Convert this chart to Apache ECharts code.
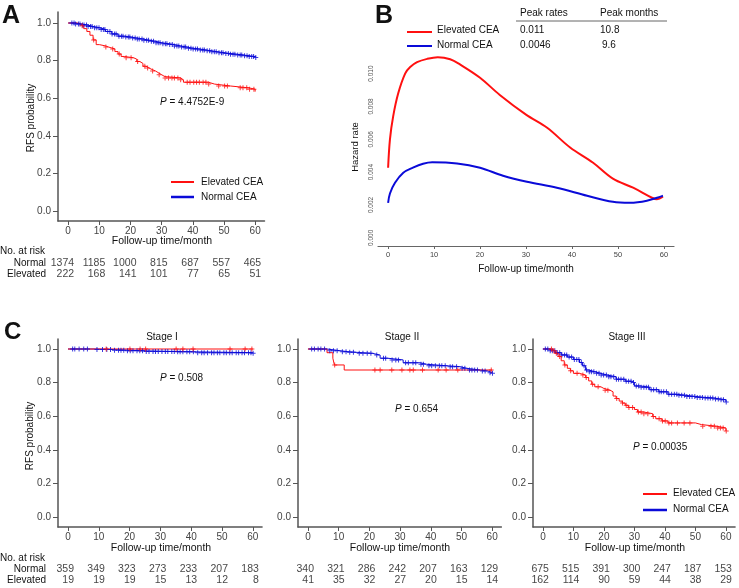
<!DOCTYPE html>
<html><head><meta charset="utf-8">
<script src="https://cdn.jsdelivr.net/npm/echarts@6/dist/echarts.min.js"></script>
<style>html,body{margin:0;padding:0;background:#fff}#c{width:739px;height:588px}</style>
</head><body><div id="c"></div>
<script>
// ---------------- DATA ----------------
const timeTicks = [0, 10, 20, 30, 40, 50, 60];
const probTicks = [0, 0.2, 0.4, 0.6, 0.8, 1];
const hazTicks = [0, 0.002, 0.004, 0.006, 0.008, 0.010];

// Panel A: Kaplan-Meier RFS (time month, survival)
const aNormal = [[0,1],[2,0.995],[4,0.99],[6,0.982],[8,0.975],[10,0.966],[12,0.955],[14,0.942],[16,0.93],[18,0.925],[20,0.92],[22,0.915],[24,0.908],[26,0.903],[28,0.895],[30,0.89],[32,0.886],[34,0.878],[36,0.872],[38,0.866],[40,0.862],[42,0.857],[44,0.852],[46,0.847],[48,0.842],[50,0.838],[52,0.834],[54,0.83],[56,0.826],[58,0.822],[60,0.816]];
const aElevated = [[0,1],[3,0.995],[4,0.985],[5,0.97],[6,0.955],[7,0.935],[8,0.91],[9,0.885],[10,0.878],[12,0.872],[13,0.862],[15,0.848],[16,0.835],[17,0.822],[18,0.815],[21,0.808],[22,0.795],[23,0.785],[24,0.77],[25,0.76],[26,0.752],[27,0.745],[28,0.735],[29,0.725],[30,0.715],[31,0.708],[36,0.698],[37,0.685],[45,0.675],[47,0.665],[52,0.655],[58,0.648],[60,0.635]];
const aNormalCens = [1.2,1.9,2.4,3.3,3.8,4.6,5.1,5.9,6.4,7.2,7.7,8.5,9.2,9.9,10.6,11.3,11.8,12.7,13.4,14.1,14.9,15.4,16.3,17.1,17.6,18.5,19.3,19.8,20.7,21.5,22.2,22.8,23.7,24.3,25.2,25.8,26.7,27.4,28.2,28.9,29.5,30.4,31.2,31.7,32.6,33.4,34.1,34.9,35.5,36.4,37.2,37.7,38.6,39.4,40.1,40.9,41.5,42.4,43.2,43.7,44.6,45.4,46.1,46.9,47.5,48.4,49.2,49.7,50.6,51.4,52.1,52.9,53.5,54.4,55.2,55.7,56.6,57.4,58.1,58.9,59.5,60.2];
const aElevatedCens = [4.5,8.2,12.1,14.3,16.4,18.6,20.2,22.3,24.6,25.5,27.1,29.2,31.1,32.2,33.3,34.1,35.2,36.1,38.2,39.1,40.3,41.2,42.1,43.3,44.2,45.1,48.3,50.2,51.1,55.2,56.1,57.3,58.2,59.6];
const aRiskNormal = [1374, 1185, 1000, 815, 687, 557, 465];
const aRiskElevated = [222, 168, 141, 101, 77, 65, 51];
const aPvalue = '4.4752E-9';

// Panel B: smoothed hazard rates
const hazElevated = [[0,0.00427],[0.4,0.006],[1.1,0.0074],[2.2,0.0088],[3.7,0.01],[4.8,0.0104],[6.3,0.0107],[8.5,0.0109],[10.8,0.011],[13.5,0.01088],[15.7,0.01055],[20,0.00975],[24.3,0.0087],[30,0.0075],[34.6,0.0067],[39.6,0.0055],[44.6,0.00457],[48.9,0.0036],[53.3,0.00305],[57.4,0.00244],[58.5,0.00235],[59.8,0.0025]];
const hazNormal = [[0,0.00213],[0.4,0.0027],[1.5,0.00335],[3.3,0.00396],[5.4,0.00427],[7.6,0.00451],[9.6,0.0046],[15,0.00453],[20,0.00427],[25,0.00378],[30.2,0.00341],[36.7,0.00305],[43.3,0.00256],[48.9,0.00219],[52.6,0.00213],[56.3,0.00226],[59.8,0.00256]];
const peakRates = ['0.011', '0.0046'];
const peakMonths = ['10.8', '9.6'];

// Panel C: by stage
const s1Normal = [[0,1],[9,0.997],[14,0.993],[19,0.989],[25,0.985],[35,0.983],[41,0.978],[60,0.975]];
const s1Elevated = [[0,1],[60,1]];
const s1NormalCens = [1.5,2.2,3.6,5.1,6.3,9.4,11.2,12.6,13.8,15.1,16.4,17.2,18.1,19.3,20.2,21.1,22.4,23.3,24.2,25.4,26.3,27.6,28.4,29.3,30.5,31.6,32.4,33.7,34.5,35.6,36.4,37.3,38.6,39.5,40.7,42.1,43.4,44.2,45.3,46.6,47.4,48.5,49.3,50.6,51.4,52.5,53.3,54.6,55.4,56.5,57.3,58.6,59.4,60.1];
const s1ElevatedCens = [12.4,20.1,23.4,25.2,35.1,37.3,40.6,52.6,57.5,59.7];
const s1RiskNormal = [359, 349, 323, 273, 233, 207, 183];
const s1RiskElevated = [19, 19, 19, 15, 13, 12, 8];
const s1Pvalue = '0.508';

const s2Normal = [[0,1],[6.2,0.99],[10.4,0.984],[13,0.98],[16,0.974],[21,0.964],[23.5,0.945],[26,0.935],[31,0.918],[36.5,0.909],[38.7,0.9],[45.3,0.895],[49.5,0.885],[51.7,0.875],[56,0.869],[58.6,0.859],[60,0.855]];
const s2Elevated = [[0,1],[6.2,0.978],[8.1,0.945],[8.6,0.905],[11.8,0.875],[60,0.875]];
const s2NormalCens = [1.2,2.1,3.3,4.2,5.4,7.1,8.3,9.5,11.2,12.4,13.6,14.8,16.7,17.9,19.3,20.5,22.4,24.6,25.3,27.4,28.6,29.5,31.8,32.7,34.2,35.1,36.8,37.6,39.4,40.3,41.5,42.8,43.6,44.7,46.3,47.1,48.4,50.2,51.1,52.6,53.4,54.3,55.2,56.8,57.7,59.3,60.1];
const s2ElevatedCens = [8.7,21.8,23.5,27.3,30.6,33.2,34.3,37.3,42.4,45.0,48.8,59.7];
const s2RiskNormal = [340, 321, 286, 242, 207, 163, 129];
const s2RiskElevated = [41, 35, 32, 27, 20, 15, 14];
const s2Pvalue = '0.654';

const s3Normal = [[0,1],[2,0.99],[4,0.978],[6,0.965],[8,0.952],[10,0.938],[12,0.92],[13,0.9],[14,0.875],[15,0.865],[17,0.855],[19,0.845],[21,0.835],[24,0.82],[27,0.808],[29,0.8],[30,0.78],[32,0.772],[35,0.758],[38,0.745],[41,0.73],[44,0.724],[47,0.718],[50,0.712],[53,0.708],[56,0.703],[58,0.698],[60,0.685]];
const s3Elevated = [[0,1],[3,0.99],[4,0.975],[5,0.955],[6,0.93],[7,0.905],[8,0.885],[9,0.87],[10,0.855],[12,0.845],[14,0.83],[15,0.81],[16,0.79],[17,0.775],[19,0.765],[20,0.755],[22,0.745],[23,0.72],[24,0.705],[25,0.69],[26,0.678],[27,0.665],[28,0.652],[30,0.64],[31,0.625],[33,0.615],[36,0.598],[37,0.585],[39,0.572],[41,0.56],[50,0.55],[52,0.54],[57,0.53],[60,0.512]];
const s3NormalCens = [0.8,1.6,2.4,3.1,3.9,4.7,5.5,6.2,7.1,7.8,8.6,9.4,10.3,11.1,11.8,12.6,13.5,14.3,15.2,15.9,16.7,17.6,18.4,19.1,19.9,20.8,21.6,22.3,23.2,24.1,24.8,25.6,26.5,27.3,28.1,28.9,29.7,30.6,31.4,32.2,33.1,33.9,34.6,35.5,36.3,37.2,38.1,38.8,39.6,40.5,41.3,42.2,43.1,43.9,44.6,45.5,46.4,47.2,48.1,48.9,49.8,50.6,51.5,52.3,53.2,54.1,54.9,55.7,56.6,57.5,58.4,59.2,60.1];
const s3ElevatedCens = [2.8,3.6,4.4,5.5,7.2,9.1,11.2,13.1,14.2,16.3,18.1,20.4,21.3,24.2,26.1,27.3,28.2,29.4,31.3,32.2,33.1,34.4,36.2,38.1,39.2,40.1,41.3,42.2,44.1,46.3,48.2,52.4,55.1,56.2,57.3,58.2,59.1,60.1];
const s3RiskNormal = [675, 515, 391, 300, 247, 187, 153];
const s3RiskElevated = [162, 114, 90, 59, 44, 38, 29];
const s3Pvalue = '0.00035';

// ---------------- CHART ----------------
const FONT = '"Liberation Sans", Arial, sans-serif';
const RED = '#ff1010';
const BLUE = '#0a0ad8';
const AX = '#555';
const PLUS = 'path://M2,0H3V2H5V3H3V5H2V3H0V2H2Z';

function stepAt(curve, t) {
  let v = curve[0][1];
  for (const p of curve) { if (p[0] <= t) v = p[1]; else break; }
  return v;
}

const grids = [], xAxes = [], yAxes = [], series = [];
function addKM(left, top, pxPerMonth, pxPerUnit, height) {
  const xmin = -3.25, xmax = 63;
  const idx = grids.length;
  const ymin = -10 / pxPerUnit;
  const ymax = (height - 10) / pxPerUnit;
  grids.push({ left: left, top: top, width: (xmax - xmin) * pxPerMonth, height: height });
  xAxes.push({
    gridIndex: idx, type: 'value', min: xmin, max: xmax,
    axisLine: { show: true, onZero: false, lineStyle: { color: AX, width: 1.5 } },
    axisTick: { show: true, length: 4, customValues: timeTicks, lineStyle: { color: AX } },
    axisLabel: { customValues: timeTicks, fontSize: 10, color: '#444', margin: 5, fontFamily: FONT },
    splitLine: { show: false }
  });
  yAxes.push({
    gridIndex: idx, type: 'value', min: ymin, max: ymax,
    axisLine: { show: true, onZero: false, lineStyle: { color: AX, width: 1.5 } },
    axisTick: { show: true, length: 5, customValues: probTicks, lineStyle: { color: AX } },
    axisLabel: { customValues: probTicks, fontSize: 10, color: '#444', margin: 7, fontFamily: FONT,
      formatter: v => v.toFixed(1) },
    splitLine: { show: false }
  });
  return idx;
}
function kmSeries(idx, curve, cens, color) {
  series.push({ type: 'line', xAxisIndex: idx, yAxisIndex: idx, data: curve, step: 'end',
    symbol: 'none', lineStyle: { color: color, width: 1 }, silent: true, z: 2 });
  series.push({ type: 'scatter', xAxisIndex: idx, yAxisIndex: idx,
    data: cens.map(t => [t, stepAt(curve, t)]), symbol: PLUS, symbolSize: 5,
    itemStyle: { color: color }, silent: true, z: 3 });
}
function addRisk(left, top, pxPerMonth, rowGap, normalVals, elevVals) {
  const xmin = -3.25, xmax = 63;
  const idx = grids.length;
  grids.push({ left: left, top: top, width: (xmax - xmin) * pxPerMonth, height: rowGap });
  xAxes.push({ gridIndex: idx, type: 'value', min: xmin, max: xmax, show: false });
  yAxes.push({ gridIndex: idx, type: 'value', min: 0, max: 1, show: false });
  const mk = (vals, row) => timeTicks.map((t, i) => [t, row, vals[i]]);
  series.push({ type: 'scatter', xAxisIndex: idx, yAxisIndex: idx,
    data: mk(normalVals, 1).concat(mk(elevVals, 0)), symbolSize: 1,
    itemStyle: { color: 'rgba(0,0,0,0)' }, silent: true,
    label: { show: true, position: 'inside', align: 'right', offset: [6, 0],
      formatter: p => String(p.value[2]), fontSize: 10.5, color: '#111', fontFamily: FONT } });
}

// Panel A
const iA = addKM(58, 12, 3.117, 188, 209);
kmSeries(iA, aNormal, aNormalCens, BLUE);
kmSeries(iA, aElevated, aElevatedCens, RED);
addRisk(58, 263, 3.117, 11, aRiskNormal, aRiskElevated);

// Panel B
const iB = grids.length;
grids.push({ left: 378, top: 49, width: 296, height: 197 });
xAxes.push({ gridIndex: iB, type: 'value', min: -2.2, max: 62.2,
  axisLine: { show: true, onZero: false, lineStyle: { color: '#666', width: 1.2 } },
  axisTick: { show: true, length: 3, customValues: timeTicks, lineStyle: { color: '#666' } },
  axisLabel: { customValues: timeTicks, fontSize: 7.5, color: '#444', margin: 5, fontFamily: FONT },
  splitLine: { show: false } });
yAxes.push({ gridIndex: iB, type: 'value', min: -0.0005, max: 0.0115,
  axisLine: { show: false },
  axisTick: { show: false },
  axisLabel: { customValues: hazTicks, fontSize: 6.5, color: '#555', margin: 3, rotate: 90,
    fontFamily: FONT, formatter: v => v.toFixed(3) },
  splitLine: { show: false } });
series.push({ type: 'line', xAxisIndex: iB, yAxisIndex: iB, data: hazElevated, smooth: 0.35,
  symbol: 'none', lineStyle: { color: RED, width: 2 }, silent: true });
series.push({ type: 'line', xAxisIndex: iB, yAxisIndex: iB, data: hazNormal, smooth: 0.35,
  symbol: 'none', lineStyle: { color: BLUE, width: 2 }, silent: true });

// Panel C
const i1 = addKM(58, 339, 3.08, 168, 188);
kmSeries(i1, s1Normal, s1NormalCens, BLUE);
kmSeries(i1, s1Elevated, s1ElevatedCens, RED);
const i2 = addKM(298, 339, 3.07, 168, 188);
kmSeries(i2, s2Normal, s2NormalCens, BLUE);
kmSeries(i2, s2Elevated, s2ElevatedCens, RED);
const i3 = addKM(533, 339, 3.05, 168, 188);
kmSeries(i3, s3Normal, s3NormalCens, BLUE);
kmSeries(i3, s3Elevated, s3ElevatedCens, RED);
addRisk(58, 569, 3.08, 11, s1RiskNormal, s1RiskElevated);
addRisk(298, 569, 3.07, 11, s2RiskNormal, s2RiskElevated);
addRisk(533, 569, 3.05, 11, s3RiskNormal, s3RiskElevated);

// ---------------- TEXT / LEGENDS ----------------
const g = [];
function T(x, y, text, o) {
  o = o || {};
  g.push({ type: 'text', x: x, y: y, rotation: o.rot || 0, silent: true,
    style: { text: text, fill: o.color || '#111', fontSize: o.size || 10, fontFamily: FONT,
      fontWeight: o.bold ? 'bold' : 'normal', textAlign: o.align || 'left',
      textVerticalAlign: 'middle', rich: o.rich } });
}
function L(x1, y1, x2, y2, color, w) {
  g.push({ type: 'line', silent: true, shape: { x1: x1, y1: y1, x2: x2, y2: y2 },
    style: { stroke: color, lineWidth: w } });
}
const pRich = { i: { fontStyle: 'italic', fontSize: 10, fontFamily: FONT, fill: '#111' } };

// A
T(2, 16, 'A', { size: 25, bold: true });
T(31, 118, 'RFS probability', { align: 'center', rot: Math.PI / 2 });
T(162, 241, 'Follow-up time/month', { align: 'center', size: 10.5 });
T(160, 102, '{i|P} = ' + aPvalue, { rich: pRich });
L(171, 182, 194, 182, RED, 2); T(201, 182, 'Elevated CEA');
L(171, 197, 194, 197, BLUE, 2.5); T(201, 197, 'Normal CEA');
T(0, 251, 'No. at risk');
T(46, 263, 'Normal', { align: 'right' });
T(46, 274, 'Elevated', { align: 'right' });

// B
T(375, 16, 'B', { size: 25, bold: true });
T(355, 147, 'Hazard rate', { align: 'center', rot: Math.PI / 2, size: 9.5 });
T(526, 269, 'Follow-up time/month', { align: 'center' });
T(520, 13, 'Peak rates');
T(600, 13, 'Peak months');
L(516, 21, 667, 21, '#666', 1);
L(407, 32, 432, 32, RED, 2); T(437, 30, 'Elevated CEA');
L(407, 46, 432, 46, BLUE, 2); T(437, 45, 'Normal CEA');
T(520, 30, peakRates[0]); T(600, 30, peakMonths[0]);
T(520, 45, peakRates[1]); T(602, 45, peakMonths[1]);

// C
T(4, 332, 'C', { size: 24, bold: true });
T(162, 337, 'Stage I', { align: 'center' });
T(402, 337, 'Stage II', { align: 'center' });
T(627, 337, 'Stage III', { align: 'center' });
T(30, 436, 'RFS probability', { align: 'center', rot: Math.PI / 2 });
T(160, 378, '{i|P} = ' + s1Pvalue, { rich: pRich });
T(395, 409, '{i|P} = ' + s2Pvalue, { rich: pRich });
T(633, 447, '{i|P} = ' + s3Pvalue, { rich: pRich });
T(161, 548, 'Follow-up time/month', { align: 'center', size: 10.5 });
T(400, 548, 'Follow-up time/month', { align: 'center', size: 10.5 });
T(635, 548, 'Follow-up time/month', { align: 'center', size: 10.5 });
L(643, 494, 667, 494, RED, 2); T(673, 493, 'Elevated CEA');
L(643, 510, 667, 510, BLUE, 2.5); T(673, 509, 'Normal CEA');
T(0, 558, 'No. at risk');
T(46, 569, 'Normal', { align: 'right' });
T(46, 580, 'Elevated', { align: 'right' });

const chart = echarts.init(document.getElementById('c'), null, { renderer: 'canvas' });
chart.setOption({
  animation: false,
  backgroundColor: '#fff',
  textStyle: { fontFamily: FONT },
  grid: grids, xAxis: xAxes, yAxis: yAxes, series: series, graphic: g
});
</script>
</body></html>
